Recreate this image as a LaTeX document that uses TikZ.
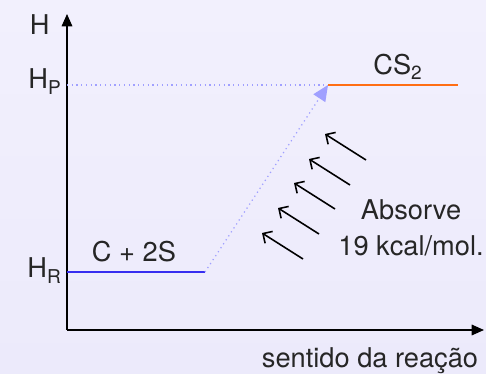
\documentclass[tikz,border=0pt]{standalone}
\usepackage{fontspec}
\setmainfont{TeX Gyre Heros}
\usetikzlibrary{arrows.meta,positioning}
\definecolor{bgTop}{RGB}{242,240,253}
\definecolor{bgBot}{RGB}{236,234,251}
\definecolor{levBlue}{RGB}{55,45,240}
\definecolor{levOrange}{RGB}{255,110,20}
\definecolor{dotBlue}{RGB}{160,160,255}
\tikzset{
  axis/.style  = {-{Triangle[length=7pt,width=6pt]}, line width=0.9pt, black},
  level/.style = {line width=1.7pt},
  guide/.style = {dotted, dotBlue, line width=0.7pt},
  heat/.style  = {-{Straight Barb[length=4pt,width=8pt]}, line width=0.9pt, black},
  lbl/.style   = {font=\fontsize{15.5}{18}\selectfont, text=black!85, inner sep=0pt}
}

\begin{document}
\begin{tikzpicture}[x=0.02cm, y=-0.02cm]
    % background
    \shade[top color=bgTop, bottom color=bgBot] (0,0) rectangle (486,374);
    \useasboundingbox (0,0) rectangle (486,374);

    % axes
    \coordinate (orig) at (67,330);
    \coordinate (ytop) at (67,14);
    \coordinate (xend) at (484,330);
    \draw[axis] (orig) -- (ytop);
    \draw[axis] (orig) -- (xend);
    \node[lbl, anchor=base east] (hlab) at (50,35) {H};
    \node[lbl, anchor=base] (xlab) at (370,367) {sentido da reação};

    % levels
    \coordinate (rL) at (67,272);
    \coordinate (rR) at (205,272);
    \coordinate (pL) at (328,85);
    \coordinate (pR) at (458,85);
    \draw[guide] (orig |- pL) -- (pL);
    \draw[level, levBlue] (rL) -- (rR);
    \draw[level, levOrange] (pL) -- (pR);
    \draw[guide, -{Triangle[length=9pt,width=8pt]}] (rR) -- (pL);

    \node[lbl, anchor=base east] (hp) at (62,89) {H\textsubscript{P}};
    \node[lbl, anchor=base east] (hr) at (62,278) {H\textsubscript{R}};
    \node[lbl, anchor=base] (react) at (134,262) {C + 2S};
    \node[lbl, anchor=base] (prod) at (398,75) {CS\textsubscript{2}};

    % absorbed heat
    \foreach \i/\x/\y in {1/366/160, 2/350/185, 3/335/209, 4/319/234, 5/303/259}{
      \coordinate (tail\i) at (\x,\y);
      \draw[heat] (tail\i) -- ++(-41,-26);
    }
    \node[lbl, anchor=base] (abs) at (411,220) {Absorve};
    \node[lbl, anchor=base] (kcal) at (411,256) {19 kcal/mol.};
\end{tikzpicture}
\end{document}
